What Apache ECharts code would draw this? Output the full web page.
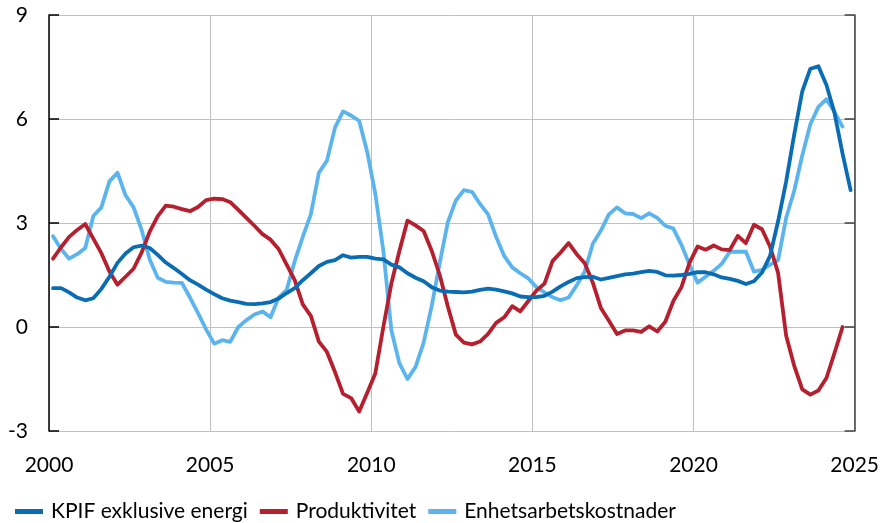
<!DOCTYPE html>
<html>
<head>
<meta charset="utf-8">
<script src="https://cdn.jsdelivr.net/npm/echarts@6/dist/echarts.min.js"></script>
<style>html,body{margin:0;padding:0;background:#fff}#c{width:882px;height:523px}</style>
</head>
<body>
<div id="c"></div>
<script>
// Quarterly data, first observation 2000 Q1 (plotted mid-quarter)
const startYear = 2000;
const seriesNames = ['KPIF exklusive energi', 'Produktivitet', 'Enhetsarbetskostnader'];
const kpif = [
  1.12, 1.12, 1.0, 0.85, 0.77, 0.83, 1.1, 1.45, 1.85, 2.12,
  2.3, 2.35, 2.28, 2.08, 1.86, 1.7, 1.53, 1.35, 1.22, 1.08,
  0.95, 0.83, 0.76, 0.72, 0.67, 0.66, 0.68, 0.72, 0.82, 0.98,
  1.12, 1.35, 1.55, 1.76, 1.88, 1.93, 2.07, 2.0, 2.02, 2.02,
  1.97, 1.95, 1.8, 1.72, 1.55, 1.42, 1.32, 1.15, 1.05, 1.02,
  1.01, 1.0, 1.02, 1.07, 1.11, 1.08, 1.03, 0.97, 0.88, 0.86,
  0.86, 0.9, 1.02, 1.17, 1.3, 1.41, 1.44, 1.45, 1.37, 1.42,
  1.47, 1.52, 1.54, 1.58, 1.62, 1.59, 1.49, 1.48, 1.5, 1.53,
  1.58, 1.58, 1.52, 1.43, 1.39, 1.33, 1.24, 1.32, 1.57, 2.05,
  3.05, 4.2, 5.55, 6.8, 7.45, 7.52, 6.98, 6.18, 5.0, 3.95
];
const produktivitet = [
  1.97, 2.3, 2.6, 2.8, 2.97, 2.55, 2.13, 1.6, 1.22, 1.45,
  1.68, 2.15, 2.75, 3.2, 3.5, 3.47, 3.4, 3.34, 3.46, 3.66,
  3.7, 3.69, 3.6, 3.38, 3.15, 2.92, 2.68, 2.52, 2.25, 1.8,
  1.35, 0.65, 0.32, -0.42, -0.72, -1.3, -1.93, -2.05, -2.44, -1.9,
  -1.34, 0.0, 1.26, 2.2, 3.07, 2.93, 2.77, 2.2, 1.5, 0.6,
  -0.22, -0.45, -0.5, -0.42, -0.2, 0.12, 0.28, 0.6, 0.45, 0.75,
  1.05, 1.25, 1.9, 2.15, 2.42, 2.1, 1.84, 1.28, 0.55, 0.18,
  -0.2, -0.1, -0.1, -0.14, 0.02, -0.13, 0.15, 0.75, 1.15, 1.85,
  2.32, 2.23, 2.35, 2.24, 2.22, 2.63, 2.42, 2.95, 2.82, 2.32,
  1.56, -0.25, -1.12, -1.8, -1.95, -1.83, -1.47, -0.75, 0.0
];
const enhetsarbetskostnader = [
  2.62, 2.25, 1.97, 2.1, 2.28, 3.2, 3.45, 4.2, 4.45, 3.8,
  3.45, 2.8, 1.95, 1.42, 1.3, 1.28, 1.27, 0.85, 0.4, -0.07,
  -0.48, -0.38, -0.43, 0.0, 0.2, 0.36, 0.45, 0.28, 0.85, 1.07,
  1.9, 2.6, 3.25, 4.45, 4.8, 5.75, 6.22, 6.1, 5.95, 5.05,
  3.85, 2.2, -0.1, -1.05, -1.5, -1.15, -0.45, 0.6, 1.85, 3.02,
  3.65, 3.95, 3.9, 3.55, 3.25, 2.6, 2.05, 1.72, 1.55, 1.4,
  1.15, 1.0, 0.86, 0.77, 0.85, 1.2, 1.6, 2.4, 2.78, 3.25,
  3.45, 3.28, 3.26, 3.14, 3.28, 3.15, 2.92, 2.84, 2.37, 1.8,
  1.28, 1.45, 1.62, 1.82, 2.17, 2.17, 2.17, 1.6, 1.65, 1.8,
  1.93, 3.15, 3.93, 4.95, 5.85, 6.35, 6.57, 6.2, 5.78
];
const xAxisRange = [2000, 2025];
const xInterval = 5;
const yAxisRange = [-3, 9];
const yInterval = 3;
const colors = ['#0A6DB4', '#B51F2E', '#5CB4EE'];

const FONT = 'Lato';
function toPairs(values) {
  return values.map((v, i) => [startYear + (i + 0.5) / 4, v]);
}

const chart = echarts.init(document.getElementById('c'), null, {renderer: 'canvas'});
const lineSeries = (name, values, color) => ({
  name, type: 'line', data: toPairs(values), showSymbol: false, symbol: 'none',
  lineStyle: {color, width: 3.8, join: 'round', cap: 'round'},
  itemStyle: {color}, animation: false
});
chart.setOption({
  animation: false,
  textStyle: {fontFamily: FONT},
  grid: {left: 49, right: 26, top: 15, bottom: 92, containLabel: false},
  legend: {
    data: seriesNames,
    left: 10, top: 496,
    icon: 'rect', itemWidth: 28, itemHeight: 5, itemGap: 12,
    textStyle: {fontFamily: FONT, fontSize: 21, color: '#000', padding: [0, 0, 0, 3]}
  },
  xAxis: {
    type: 'value', min: xAxisRange[0], max: xAxisRange[1], interval: xInterval,
    axisLine: {show: false}, axisTick: {show: false},
    axisLabel: {fontFamily: FONT, fontSize: 21, color: '#000', margin: 24,
      formatter: v => String(v)},
    splitLine: {show: true, lineStyle: {color: '#C0C0C0', width: 1}}
  },
  yAxis: [{
    type: 'value', min: yAxisRange[0], max: yAxisRange[1], interval: yInterval, position: 'left',
    axisLine: {show: true, lineStyle: {color: '#000', width: 1.5}},
    axisTick: {show: true, inside: true, length: 10, lineStyle: {color: '#000', width: 1.5}},
    axisLabel: {fontFamily: FONT, fontSize: 21, color: '#000', margin: 21},
    splitLine: {show: true, lineStyle: {color: '#C0C0C0', width: 1}}
  }, {
    type: 'value', min: yAxisRange[0], max: yAxisRange[1], interval: yInterval, position: 'right',
    axisLine: {show: true, lineStyle: {color: '#404040', width: 1.5}},
    axisTick: {show: true, inside: true, length: 10, lineStyle: {color: '#404040', width: 1.5}},
    axisLabel: {show: false}, splitLine: {show: false}
  }],
  series: [
    lineSeries(seriesNames[2], enhetsarbetskostnader, colors[2]),
    lineSeries(seriesNames[1], produktivitet, colors[1]),
    lineSeries(seriesNames[0], kpif, colors[0])
  ]
});
</script>
</body>
</html>
